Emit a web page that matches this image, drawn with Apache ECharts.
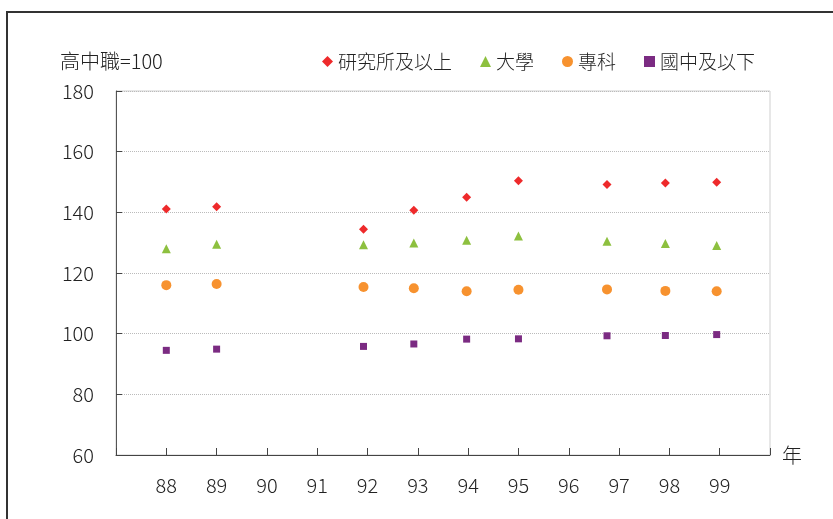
<!DOCTYPE html>
<html>
<head>
<meta charset="utf-8">
<script src="https://cdn.jsdelivr.net/npm/echarts@6/dist/echarts.min.js"></script>
<style>
  html, body { margin: 0; padding: 0; background: #fff; }
  #myChart { width: 833px; height: 519px; }
</style>
</head>
<body>
<div id="myChart"></div>
<script>
// year positions as plotted (academic years, some mid-year)
const years = [88, 89, 91.92, 92.92, 93.97, 95, 96.76, 97.92, 98.94];
const graduate = [141.1, 141.8, 134.4, 140.7, 145.0, 150.4, 149.2, 149.7, 149.9];
const university = [128.0, 129.5, 129.3, 129.9, 130.8, 132.2, 130.5, 129.7, 129.1];
const college = [116.0, 116.4, 115.4, 115.0, 114.0, 114.5, 114.6, 114.1, 114.0];
const juniorHigh = [94.5, 94.9, 95.8, 96.6, 98.2, 98.3, 99.3, 99.4, 99.7];
const seriesNames = ["研究所及以上", "大學", "專科", "國中及以下"];
const yTicks = [60, 80, 100, 120, 140, 160, 180];

const FONT = '"Noto Sans CJK TC", "Noto Sans", sans-serif';

function pairs(vals) {
  return vals.map(function (v, i) { return [years[i], v]; });
}

let myChart = echarts.init(document.getElementById("myChart"));

let option = {
  animation: false,
  textStyle: { fontFamily: FONT, fontWeight: 300 },
  title: {
    text: "高中職=100",
    left: 55,
    top: 46,
    textStyle: { fontFamily: FONT, fontSize: 20, fontWeight: 300, color: "#222" },
  },
  graphic: [
    {
      type: "rect",
      shape: { x: 7, y: 12, width: 860, height: 540 },
      style: { fill: null, stroke: "#333", lineWidth: 2 },
      silent: true,
    },
  ],
  legend: {
    data: seriesNames,
    left: 317,
    top: 47,
    itemWidth: 11,
    itemHeight: 11,
    itemGap: 28,
    textStyle: { fontFamily: FONT, fontSize: 19, fontWeight: 300, color: "#222" },
  },
  grid: {
    left: 116,
    right: 63,
    top: 91,
    bottom: 64,
    show: true,
    borderColor: "#cfcfcf",
    borderWidth: 1,
  },
  xAxis: {
    type: "value",
    min: 87,
    max: 100,
    interval: 1,
    name: "年",
    nameLocation: "end",
    nameGap: 12,
    nameTextStyle: { fontFamily: FONT, fontSize: 20, fontWeight: 300, color: "#222", padding: [0, 0, 16, 0] },
    axisLine: { lineStyle: { color: "#444", width: 1 } },
    axisTick: { inside: true, length: 7, lineStyle: { color: "#444" } },
    splitLine: { show: false },
    axisLabel: {
      margin: 20,
      fontSize: 20,
      fontWeight: 300,
      color: "#222",
      formatter: function (v) { return v === 87 || v === 100 ? "" : String(v); },
    },
  },
  yAxis: {
    type: "value",
    min: yTicks[0],
    max: yTicks[yTicks.length - 1],
    interval: 20,
    axisLine: { show: true, lineStyle: { color: "#555", width: 1 } },
    axisTick: { show: true, inside: true, length: 6, lineStyle: { color: "#444" } },
    splitLine: { lineStyle: { color: "#bbb", type: "dotted" } },
    axisLabel: { margin: 22, fontSize: 20, fontWeight: 300, color: "#222" },
  },
  series: [
    {
      name: seriesNames[0],
      type: "scatter",
      symbol: "diamond",
      symbolSize: 9,
      itemStyle: { color: "#ee2a2b", opacity: 1 },
      data: pairs(graduate),
    },
    {
      name: seriesNames[1],
      type: "scatter",
      symbol: "triangle",
      symbolSize: 9,
      itemStyle: { color: "#8dc03f", opacity: 1 },
      data: pairs(university),
    },
    {
      name: seriesNames[2],
      type: "scatter",
      symbol: "circle",
      symbolSize: 10,
      itemStyle: { color: "#f7922f", opacity: 1 },
      data: pairs(college),
    },
    {
      name: seriesNames[3],
      type: "scatter",
      symbol: "rect",
      symbolSize: 7,
      itemStyle: { color: "#7b2b82", opacity: 1 },
      data: pairs(juniorHigh),
    },
  ],
};

myChart.setOption(option);
</script>
</body>
</html>
